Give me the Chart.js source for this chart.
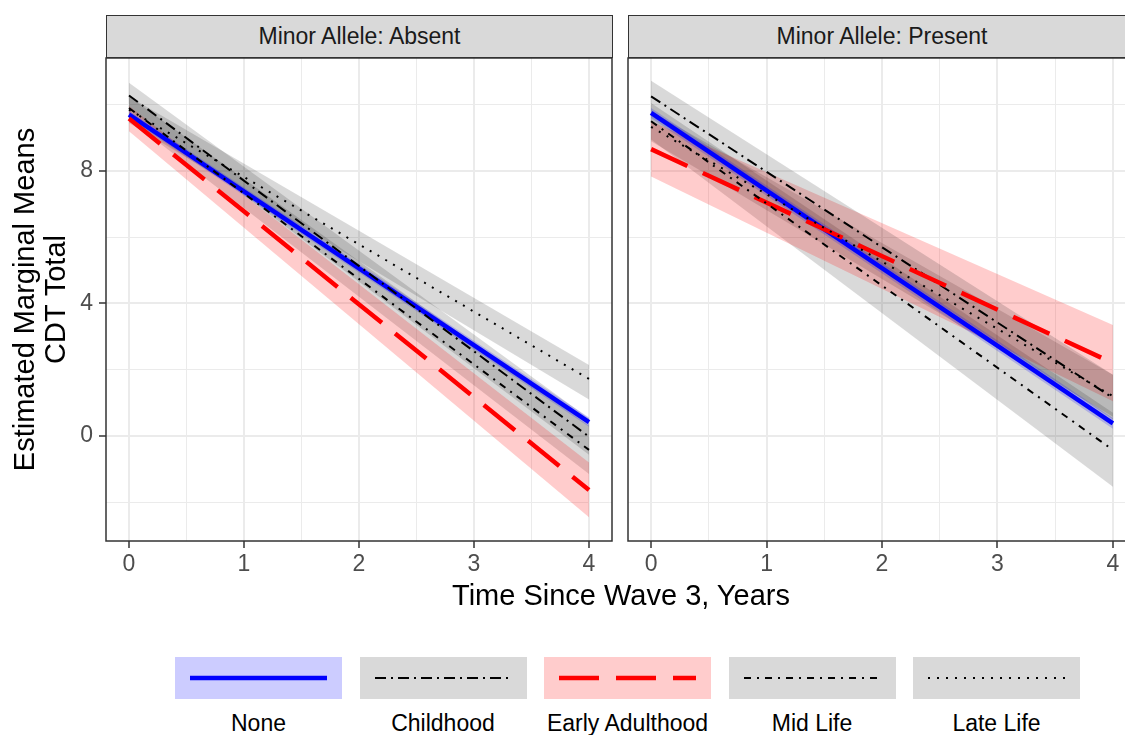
<!DOCTYPE html>
<html>
<head>
<meta charset="utf-8">
<script src="https://cdn.jsdelivr.net/npm/chart.js@4.4.1/dist/chart.umd.min.js"></script>
<style>
  html, body { margin: 0; padding: 0; background: #fff; width: 1125px; height: 735px; overflow: hidden; }
  body { position: relative; font-family: "Liberation Sans", Arial, sans-serif; }
  canvas { position: absolute; top: 0; }
  .strip {
    position: absolute; top: 15px; height: 43px; box-sizing: border-box;
    background: #d9d9d9; border: 1.5px solid #333; color: #1a1a1a;
    font-size: 23px; line-height: 40px; text-align: center;
  }
  .xtitle { position: absolute; left: 0; width: 1242px; top: 578px; font-size: 29px; line-height: 34px; text-align: center; color: #000; }
  .key { position: absolute; top: 657px; width: 167px; height: 42px; }
  .key svg { position: absolute; left: 0; top: 0; }
  .keylabel { position: absolute; top: 708px; width: 220px; font-size: 23px; line-height: 30px; text-align: center; color: #000; }
</style>
</head>
<body>
<div class="strip" style="left:106px;width:507px;">Minor Allele: Absent</div>
<div class="strip" style="left:628px;width:508px;">Minor Allele: Present</div>
<canvas id="absentChart" width="620" height="620" style="left:0px"></canvas>
<canvas id="presentChart" width="540" height="620" style="left:612px"></canvas>
<div class="xtitle">Time Since Wave 3, Years</div>
<div id="legend"></div>

<script>
// données (moyennes marginales estimées à t = 0 et t = 4)
const times = [0, 4];
const groupNames = ["None", "Childhood", "Early Adulthood", "Mid Life", "Late Life"];

// Minor Allele: Absent
const absentMean = [[9.70, 0.42], [10.28, -0.02], [9.58, -1.63], [9.90, -0.42], [9.85, 1.72]];
const absentLow  = [[9.58, 0.28], [9.88, -0.57], [9.20, -2.45], [9.55, -1.15], [9.45, 1.10]];
const absentHigh = [[9.82, 0.56], [10.66, 0.53], [9.96, -0.80], [10.25, 0.31], [10.25, 2.14]];

// Minor Allele: Present
const presentMean = [[9.75, 0.38], [10.25, 1.15], [8.66, 2.20], [9.50, -0.42], [9.33, 1.20]];
const presentLow  = [[9.60, 0.22], [9.80, 0.50], [7.83, 1.05], [8.95, -1.53], [8.90, 0.58]];
const presentHigh = [[9.90, 0.54], [10.72, 1.85], [9.50, 3.35], [10.05, 0.70], [9.80, 1.85]];

// graduations
const xMajorTicks = [0, 1, 2, 3, 4];
const xMinorTicks = [0.5, 1.5, 2.5, 3.5];
const yMajorTicks = [0, 4, 8];
const yMinorTicks = [-2, 2, 6, 10];

// styles des groupes
const groupStyles = [
  { color: "#0000ff", band: "rgba(0,0,255,0.2)", width: 4.5, dash: [] },
  { color: "#000000", band: "rgba(0,0,0,0.15)", width: 2, dash: [11, 5, 2, 5] },
  { color: "#ff0000", band: "rgba(255,0,0,0.2)", width: 4.5, dash: [40, 17] },
  { color: "#000000", band: "rgba(0,0,0,0.15)", width: 2, dash: [7, 6, 2, 6] },
  { color: "#000000", band: "rgba(0,0,0,0.15)", width: 2, dash: [2, 7] }
];

Chart.defaults.font.family = '"Liberation Sans", Arial, sans-serif';
Chart.defaults.animation = false;

// cadre du panneau (dessiné par-dessus les courbes)
const panelBorder = {
  id: "panelBorder",
  afterDraw(chart) {
    const { ctx, chartArea: a } = chart;
    ctx.save();
    ctx.strokeStyle = "#333333";
    ctx.lineWidth = 1.5;
    ctx.strokeRect(a.left, a.top, a.right - a.left, a.bottom - a.top);
    ctx.restore();
  }
};

const buildDatasets = (mean, low, high) => {
  const sets = [];
  groupNames.forEach((name, i) => {
    const st = groupStyles[i];
    sets.push({
      label: name + " low",
      data: times.map((t, k) => ({ x: t, y: low[i][k] })),
      borderColor: "transparent", borderWidth: 0, pointRadius: 0, fill: false, order: 10
    });
    sets.push({
      label: name + " high",
      data: times.map((t, k) => ({ x: t, y: high[i][k] })),
      borderColor: "transparent", borderWidth: 0, pointRadius: 0,
      fill: "-1", backgroundColor: st.band, order: 10
    });
  });
  groupNames.forEach((name, i) => {
    const st = groupStyles[i];
    sets.push({
      label: name,
      data: times.map((t, k) => ({ x: t, y: mean[i][k] })),
      borderColor: st.color, borderWidth: st.width, borderDash: st.dash,
      pointRadius: 0, fill: false, order: 5 - i
    });
  });
  return sets;
};

const isMajor = (list, v) => list.some(m => Math.abs(m - v) < 1e-6);

const makeScales = (showY) => ({
  x: {
    type: "linear", min: -0.2, max: 4.2,
    afterBuildTicks: axis => {
      axis.ticks = xMajorTicks.concat(xMinorTicks).sort((a, b) => a - b).map(v => ({ value: v }));
    },
    afterFit: axis => { axis.height = 79; },
    border: { display: false },
    grid: {
      color: "#ebebeb",
      lineWidth: c => isMajor(xMajorTicks, c.tick.value) ? 2 : 1,
      tickColor: c => isMajor(xMajorTicks, c.tick.value) ? "#333333" : "rgba(0,0,0,0)",
      tickWidth: 1.5,
      tickLength: 7
    },
    ticks: {
      color: "#4d4d4d", font: { size: 23 }, padding: 3, autoSkip: false, maxRotation: 0,
      callback: v => isMajor(xMajorTicks, v) ? String(v) : ""
    }
  },
  y: {
    type: "linear", min: -3.17, max: 11.41,
    afterBuildTicks: axis => {
      axis.ticks = yMinorTicks.concat(yMajorTicks).sort((a, b) => a - b).map(v => ({ value: v }));
    },
    afterFit: axis => { axis.width = showY ? 106 : 0; },
    border: { display: false },
    grid: {
      color: "#ebebeb",
      lineWidth: c => isMajor(yMajorTicks, c.tick.value) ? 2 : 1,
      tickColor: c => isMajor(yMajorTicks, c.tick.value) ? "#333333" : "rgba(0,0,0,0)",
      tickWidth: 1.5,
      tickLength: 7,
      drawTicks: showY
    },
    ticks: {
      display: showY, color: "#4d4d4d", font: { size: 23 }, padding: 6, autoSkip: false,
      callback: v => isMajor(yMajorTicks, v) ? String(v) : ""
    },
    title: {
      display: showY,
      text: ["Estimated Marginal Means", "CDT Total"],
      color: "#000", font: { size: 29, lineHeight: 1.05 }, padding: { top: 11 }
    }
  }
});

const makePanel = (canvasId, mean, low, high, showY, padding) => new Chart(
  document.getElementById(canvasId).getContext("2d"),
  {
    type: "line",
    data: { datasets: buildDatasets(mean, low, high) },
    options: {
      responsive: false,
      devicePixelRatio: 1,
      layout: { padding: padding },
      plugins: { legend: { display: false }, tooltip: { enabled: false } },
      scales: makeScales(showY)
    },
    plugins: [panelBorder]
  }
);

makePanel("absentChart", absentMean, absentLow, absentHigh, true, { top: 58, right: 8, bottom: 0, left: 0 });
makePanel("presentChart", presentMean, presentLow, presentHigh, false, { top: 58, right: 16, bottom: 0, left: 16 });

// légende
const legend = document.getElementById("legend");
groupNames.forEach((name, i) => {
  const st = groupStyles[i];
  const left = 175 + i * 184.5;
  const key = document.createElement("div");
  key.className = "key";
  key.style.left = left + "px";
  key.style.background = st.band;
  key.innerHTML = `<svg width="167" height="42"><line x1="15" y1="21" x2="152" y2="21"
    stroke="${st.color}" stroke-width="${st.width}" stroke-dasharray="${st.dash.join(" ")}"/></svg>`;
  legend.appendChild(key);
  const label = document.createElement("div");
  label.className = "keylabel";
  label.style.left = (left - 26.5) + "px";
  label.textContent = name;
  legend.appendChild(label);
});
</script>
</body>
</html>
